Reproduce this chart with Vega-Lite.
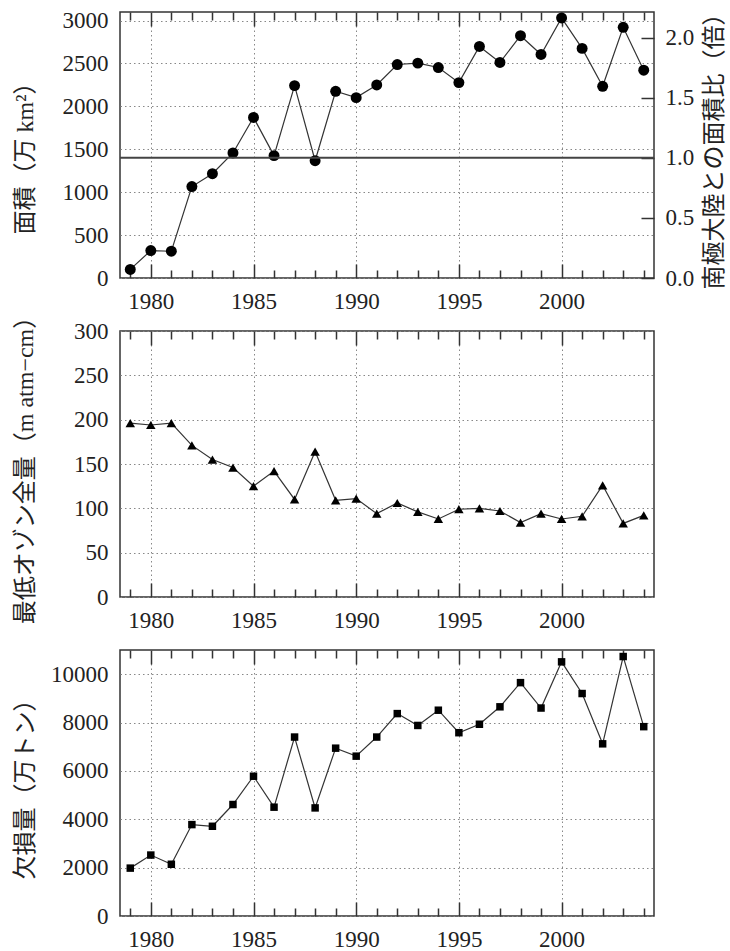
{
  "$schema": "https://vega.github.io/schema/vega-lite/v6.json",
  "padding": {"left": 12, "top": 0, "right": 0, "bottom": 0},
  "background": "white",
  "spacing": 53,
  "bounds": "flush",
  "config": {
    "view": {"stroke": "#333", "strokeWidth": 1.5},
    "font": "Liberation Serif",
    "axis": {
      "labelFont": "Liberation Serif",
      "labelFontSize": 23,
      "labelColor": "#222",
      "titleFont": "Liberation Serif, Noto Sans CJK JP",
      "titleFontSize": 24,
      "titleFontWeight": "normal",
      "titleColor": "#222",
      "domain": false,
      "gridColor": "#888",
      "gridDash": [1.5, 3],
      "gridWidth": 1,
      "tickColor": "#333",
      "tickWidth": 1.5
    }
  },
  "datasets": {
    "d": [
      {"year": 1979, "area": 100, "ozone": 196, "deficit": 1980},
      {"year": 1980, "area": 320, "ozone": 194, "deficit": 2520},
      {"year": 1981, "area": 312, "ozone": 196, "deficit": 2140},
      {"year": 1982, "area": 1066, "ozone": 171, "deficit": 3780},
      {"year": 1983, "area": 1215, "ozone": 155, "deficit": 3710},
      {"year": 1984, "area": 1457, "ozone": 146, "deficit": 4610},
      {"year": 1985, "area": 1871, "ozone": 125, "deficit": 5780},
      {"year": 1986, "area": 1426, "ozone": 142, "deficit": 4500},
      {"year": 1987, "area": 2242, "ozone": 110, "deficit": 7400},
      {"year": 1988, "area": 1367, "ozone": 164, "deficit": 4470},
      {"year": 1989, "area": 2176, "ozone": 109, "deficit": 6940},
      {"year": 1990, "area": 2102, "ozone": 111, "deficit": 6610},
      {"year": 1991, "area": 2250, "ozone": 94, "deficit": 7400},
      {"year": 1992, "area": 2488, "ozone": 106, "deficit": 8370},
      {"year": 1993, "area": 2504, "ozone": 96, "deficit": 7880},
      {"year": 1994, "area": 2453, "ozone": 88, "deficit": 8510},
      {"year": 1995, "area": 2277, "ozone": 99, "deficit": 7580},
      {"year": 1996, "area": 2699, "ozone": 100, "deficit": 7930},
      {"year": 1997, "area": 2512, "ozone": 97, "deficit": 8650},
      {"year": 1998, "area": 2824, "ozone": 84, "deficit": 9650},
      {"year": 1999, "area": 2605, "ozone": 94, "deficit": 8600},
      {"year": 2000, "area": 3031, "ozone": 88, "deficit": 10510},
      {"year": 2001, "area": 2676, "ozone": 91, "deficit": 9200},
      {"year": 2002, "area": 2234, "ozone": 126, "deficit": 7120},
      {"year": 2003, "area": 2922, "ozone": 83, "deficit": 10730},
      {"year": 2004, "area": 2422, "ozone": 92, "deficit": 7830}
    ]
  },
  "vconcat": [
    {
      "width": 534,
      "height": 266,
      "data": {"name": "d"},
      "layer": [
        {
          "mark": {"type": "line", "color": "#333", "strokeWidth": 1.2},
          "encoding": {
            "x": {"field": "year", "type": "quantitative",
              "scale": {"domain": [1978.5, 2004.5], "nice": false, "zero": false},
              "axis": {"orient": "top", "values": [1979,1980,1981,1982,1983,1984,1985,1986,1987,1988,1989,1990,1991,1992,1993,1994,1995,1996,1997,1998,1999,2000,2001,2002,2003,2004],
                "labels": false, "grid": false, "title": null, "ticks": true, "offset": -14, "tickSize": 14,
                "tickDash": {"condition": {"test": "datum.value % 5 === 0", "value": [20, 0]}, "value": [0, 6, 8, 0]}}},
            "y": {"field": "area", "type": "quantitative", "scale": {"domain": [0, 3100], "nice": false}, "axis": null}
          }
        },
        {
          "mark": {"type": "point", "shape": "circle", "filled": true, "color": "#000", "size": 120, "opacity": 1},
          "encoding": {
            "x": {"field": "year", "type": "quantitative",
              "scale": {"domain": [1978.5, 2004.5], "nice": false, "zero": false},
              "axis": {"orient": "bottom", "values": [1979,1980,1981,1982,1983,1984,1985,1986,1987,1988,1989,1990,1991,1992,1993,1994,1995,1996,1997,1998,1999,2000,2001,2002,2003,2004],
                "format": "d", "labelExpr": "datum.value % 5 === 0 ? datum.label : ''",
                "title": null, "labelPadding": 12, "offset": -14, "tickSize": 14, "ticks": true,
                "tickDash": {"condition": {"test": "datum.value % 5 === 0", "value": [20, 0]}, "value": [0, 6, 8, 0]},
                "grid": true,
                "gridOpacity": {"condition": {"test": "datum.value % 5 === 0", "value": 1}, "value": 0}}},
            "y": {"field": "area", "type": "quantitative", "scale": {"domain": [0, 3100], "nice": false},
              "axis": {"values": [0, 500, 1000, 1500, 2000, 2500, 3000], "format": "d", "ticks": false, "labelPadding": 12,
                "grid": true,
                "title": "面積（万 km²）", "titleX": -95, "titleY": 140, "titleBaseline": "middle"}}
          }
        },
        {
          "data": {"values": [{"ratio": 1}]},
          "mark": {"type": "rule", "color": "#444", "strokeWidth": 2},
          "encoding": {
            "y": {"field": "ratio", "type": "quantitative", "scale": {"domain": [0, 2.2143], "nice": false},
              "axis": {"orient": "right", "values": [0, 0.5, 1, 1.5, 2], "format": ".1f", "ticks": true, "offset": -13, "tickSize": 13, "grid": false,
                "labelPadding": 11, "title": "南極大陸との面積比（倍）", "titleAngle": -90, "titleX": 73, "titleBaseline": "middle"}}
          }
        }
      ],
      "resolve": {"scale": {"y": "independent"}, "axis": {"x": "independent", "y": "independent"}}
    },
    {
      "width": 534,
      "height": 266,
      "data": {"name": "d"},
      "layer": [
        {
          "mark": {"type": "line", "color": "#333", "strokeWidth": 1.2},
          "encoding": {
            "x": {"field": "year", "type": "quantitative",
              "scale": {"domain": [1978.5, 2004.5], "nice": false, "zero": false},
              "axis": {"orient": "top", "values": [1979,1980,1981,1982,1983,1984,1985,1986,1987,1988,1989,1990,1991,1992,1993,1994,1995,1996,1997,1998,1999,2000,2001,2002,2003,2004],
                "labels": false, "grid": false, "title": null, "ticks": true, "offset": -14, "tickSize": 14,
                "tickDash": {"condition": {"test": "datum.value % 5 === 0", "value": [20, 0]}, "value": [0, 6, 8, 0]}}},
            "y": {"field": "ozone", "type": "quantitative", "scale": {"domain": [0, 300], "nice": false}, "axis": null}
          }
        },
        {
          "mark": {"type": "point", "shape": "triangle-up", "filled": true, "color": "#000", "size": 90, "opacity": 1},
          "encoding": {
            "x": {"field": "year", "type": "quantitative",
              "scale": {"domain": [1978.5, 2004.5], "nice": false, "zero": false},
              "axis": {"orient": "bottom", "values": [1979,1980,1981,1982,1983,1984,1985,1986,1987,1988,1989,1990,1991,1992,1993,1994,1995,1996,1997,1998,1999,2000,2001,2002,2003,2004],
                "format": "d", "labelExpr": "datum.value % 5 === 0 ? datum.label : ''",
                "title": null, "labelPadding": 12, "offset": -14, "tickSize": 14, "ticks": true,
                "tickDash": {"condition": {"test": "datum.value % 5 === 0", "value": [20, 0]}, "value": [0, 6, 8, 0]},
                "grid": true,
                "gridOpacity": {"condition": {"test": "datum.value % 5 === 0", "value": 1}, "value": 0}}},
            "y": {"field": "ozone", "type": "quantitative", "scale": {"domain": [0, 300], "nice": false},
              "axis": {"values": [0, 50, 100, 150, 200, 250, 300], "format": "d", "ticks": false, "labelPadding": 12,
                "grid": true,
                "title": "最低オゾン全量（m atm−cm）", "titleX": -95, "titleBaseline": "middle"}}
          }
        }
      ],
      "resolve": {"axis": {"x": "independent", "y": "independent"}}
    },
    {
      "width": 534,
      "height": 266,
      "data": {"name": "d"},
      "layer": [
        {
          "mark": {"type": "line", "color": "#333", "strokeWidth": 1.2},
          "encoding": {
            "x": {"field": "year", "type": "quantitative",
              "scale": {"domain": [1978.5, 2004.5], "nice": false, "zero": false},
              "axis": {"orient": "top", "values": [1979,1980,1981,1982,1983,1984,1985,1986,1987,1988,1989,1990,1991,1992,1993,1994,1995,1996,1997,1998,1999,2000,2001,2002,2003,2004],
                "labels": false, "grid": false, "title": null, "ticks": true, "offset": -14, "tickSize": 14,
                "tickDash": {"condition": {"test": "datum.value % 5 === 0", "value": [20, 0]}, "value": [0, 6, 8, 0]}}},
            "y": {"field": "deficit", "type": "quantitative", "scale": {"domain": [0, 11000], "nice": false}, "axis": null}
          }
        },
        {
          "mark": {"type": "point", "shape": "square", "filled": true, "color": "#000", "size": 56, "opacity": 1},
          "encoding": {
            "x": {"field": "year", "type": "quantitative",
              "scale": {"domain": [1978.5, 2004.5], "nice": false, "zero": false},
              "axis": {"orient": "bottom", "values": [1979,1980,1981,1982,1983,1984,1985,1986,1987,1988,1989,1990,1991,1992,1993,1994,1995,1996,1997,1998,1999,2000,2001,2002,2003,2004],
                "format": "d", "labelExpr": "datum.value % 5 === 0 ? datum.label : ''",
                "title": null, "labelPadding": 12, "offset": -14, "tickSize": 14, "ticks": true,
                "tickDash": {"condition": {"test": "datum.value % 5 === 0", "value": [20, 0]}, "value": [0, 6, 8, 0]},
                "grid": true,
                "gridOpacity": {"condition": {"test": "datum.value % 5 === 0", "value": 1}, "value": 0}}},
            "y": {"field": "deficit", "type": "quantitative", "scale": {"domain": [0, 11000], "nice": false},
              "axis": {"values": [0, 2000, 4000, 6000, 8000, 10000], "format": "d", "ticks": false, "labelPadding": 12,
                "grid": true,
                "title": "欠損量（万トン）", "titleX": -95, "titleBaseline": "middle"}}
          }
        }
      ],
      "resolve": {"axis": {"x": "independent", "y": "independent"}}
    }
  ]
}
